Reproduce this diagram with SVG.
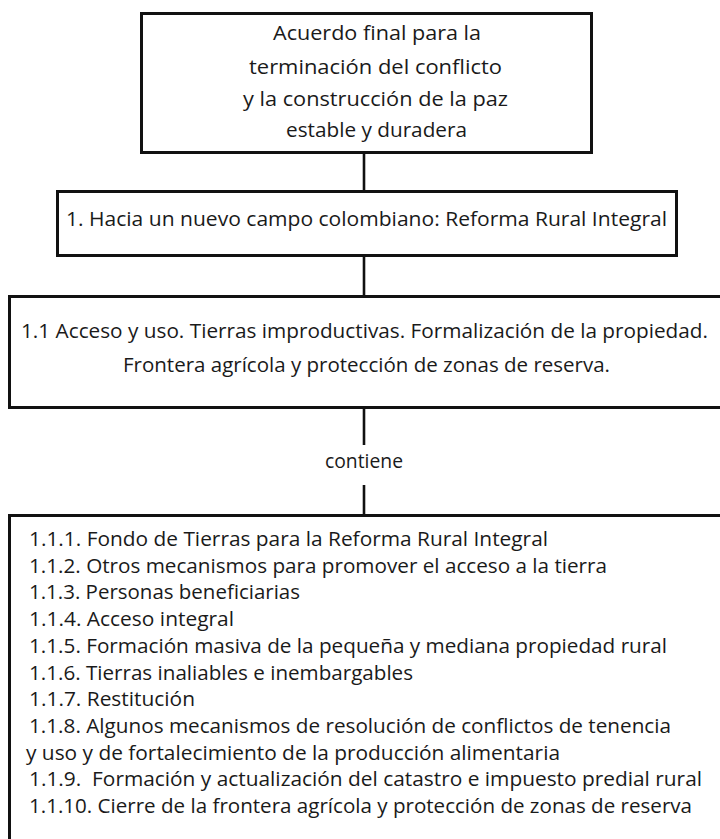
<svg xmlns="http://www.w3.org/2000/svg" width="720" height="839" viewBox="0 0 720 839">
<style>
.box{fill:#ffffff;stroke:#111111;stroke-width:3}
.con{stroke:#111111;stroke-width:2.6;fill:none}
text{font-family:"Open Sans","Noto Sans","DejaVu Sans",sans-serif;font-size:20px;fill:#1a1a1a}
.c{text-anchor:middle}
</style>
<rect width="720" height="839" fill="#ffffff"/>
<g id="connectors">
<line class="con" x1="364" y1="154" x2="364" y2="190"/>
<line class="con" x1="364" y1="257" x2="364" y2="295"/>
<line class="con" x1="364" y1="409" x2="364" y2="445"/>
<line class="con" x1="364" y1="485" x2="364" y2="514"/>
<text id="label-contiene" class="c" x="364" y="468" textLength="78" lengthAdjust="spacingAndGlyphs">contiene</text>
</g>
<g id="node-acuerdo">
<rect class="box" x="141.5" y="13.5" width="450" height="139"/>
<text class="c" x="377" y="40" textLength="208" lengthAdjust="spacingAndGlyphs">Acuerdo final para la</text>
<text class="c" x="375.5" y="74" textLength="253" lengthAdjust="spacingAndGlyphs">terminación del conflicto</text>
<text class="c" x="375.5" y="106" textLength="265" lengthAdjust="spacingAndGlyphs">y la construcción de la paz</text>
<text class="c" x="376.5" y="137" textLength="181" lengthAdjust="spacingAndGlyphs">estable y duradera</text>
</g>
<g id="node-reforma">
<rect class="box" x="57.5" y="191.5" width="619" height="64"/>
<text class="c" x="366.5" y="226" textLength="601" lengthAdjust="spacingAndGlyphs">1. Hacia un nuevo campo colombiano: Reforma Rural Integral</text>
</g>
<g id="node-acceso">
<rect class="box" x="9.5" y="296.5" width="730" height="111"/>
<text class="c" x="364.5" y="338" textLength="687" lengthAdjust="spacingAndGlyphs">1.1 Acceso y uso. Tierras improductivas. Formalización de la propiedad.</text>
<text class="c" x="366.5" y="372" textLength="487" lengthAdjust="spacingAndGlyphs">Frontera agrícola y protección de zonas de reserva.</text>
</g>
<g id="node-lista">
<rect class="box" x="9.5" y="515.5" width="730" height="400"/>
<text x="29" y="546" textLength="519" lengthAdjust="spacingAndGlyphs">1.1.1. Fondo de Tierras para la Reforma Rural Integral</text>
<text x="29" y="572.7" textLength="578" lengthAdjust="spacingAndGlyphs">1.1.2. Otros mecanismos para promover el acceso a la tierra</text>
<text x="29" y="599.4" textLength="271" lengthAdjust="spacingAndGlyphs">1.1.3. Personas beneficiarias</text>
<text x="29" y="626.1" textLength="205" lengthAdjust="spacingAndGlyphs">1.1.4. Acceso integral</text>
<text x="29" y="652.8" textLength="638" lengthAdjust="spacingAndGlyphs">1.1.5. Formación masiva de la pequeña y mediana propiedad rural</text>
<text x="29" y="679.5" textLength="384" lengthAdjust="spacingAndGlyphs">1.1.6. Tierras inaliables e inembargables</text>
<text x="29" y="706.2" textLength="166" lengthAdjust="spacingAndGlyphs">1.1.7. Restitución</text>
<text x="29" y="732.9" textLength="642" lengthAdjust="spacingAndGlyphs">1.1.8. Algunos mecanismos de resolución de conflictos de tenencia</text>
<text x="26" y="759.6" textLength="534" lengthAdjust="spacingAndGlyphs">y uso y de fortalecimiento de la producción alimentaria</text>
<text x="29" y="786.3" textLength="673" lengthAdjust="spacingAndGlyphs">1.1.9.&#160; Formación y actualización del catastro e impuesto predial rural</text>
<text x="29" y="813" textLength="663" lengthAdjust="spacingAndGlyphs">1.1.10. Cierre de la frontera agrícola y protección de zonas de reserva</text>
</g>
</svg>
